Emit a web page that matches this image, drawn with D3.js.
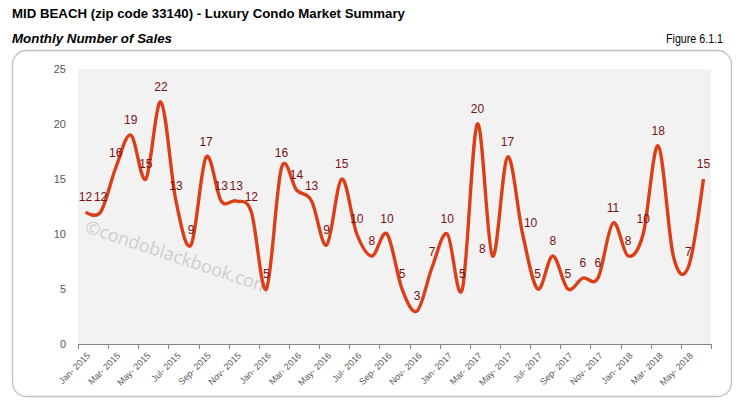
<!DOCTYPE html>
<html>
<head>
<meta charset="utf-8">
<script src="https://cdn.jsdelivr.net/npm/d3@7"></script>
<style>
  html, body { margin: 0; padding: 0; background: #fff; }
  svg { display: block; }
</style>
</head>
<body>
<svg id="chart" width="740" height="403"></svg>
<script>
// ---- data ----
const months = [
  "Jan- 2015","Feb- 2015","Mar- 2015","Apr- 2015","May- 2015","Jun- 2015","Jul- 2015","Aug- 2015","Sep- 2015","Oct- 2015","Nov- 2015","Dec- 2015",
  "Jan- 2016","Feb- 2016","Mar- 2016","Apr- 2016","May- 2016","Jun- 2016","Jul- 2016","Aug- 2016","Sep- 2016","Oct- 2016","Nov- 2016","Dec- 2016",
  "Jan- 2017","Feb- 2017","Mar- 2017","Apr- 2017","May- 2017","Jun- 2017","Jul- 2017","Aug- 2017","Sep- 2017","Oct- 2017","Nov- 2017","Dec- 2017",
  "Jan- 2018","Feb- 2018","Mar- 2018","Apr- 2018","May- 2018","Jun- 2018"
];
const sales = [
  12,12,16,19,15,22,13,9,17,13,13,12,
  5,16,14,13,9,15,10,8,10,5,3,7,
  10,5,20,8,17,10,5,8,5,6,6,11,
  8,10,18,8,7,15
];
// data label for Apr-2018 is absent in the reference
const hiddenLabels = ["Apr- 2018"];
const yTicks = [0,5,10,15,20,25];

// ---- layout / style ----
const labelNudge = {"Apr- 2017": [-10, 8], "Jun- 2017": [8, 4]};
const svg = d3.select("#chart");
const plot = {left: 78, right: 711, top: 69, bottom: 344};
const headFont = "'Liberation Sans',Arial,sans-serif";

svg.append("text").attr("x", 12).attr("y", 18)
  .style("font-family", headFont)
  .style("font-weight", "bold").style("font-size", "13px").attr("fill", "#000")
  .attr("textLength", 393).attr("lengthAdjust", "spacingAndGlyphs")
  .text("MID BEACH (zip code 33140) - Luxury Condo Market Summary");
svg.append("text").attr("x", 12).attr("y", 43)
  .style("font-family", headFont)
  .style("font-weight", "bold").style("font-style", "italic").style("font-size", "13.5px").attr("fill", "#000")
  .attr("textLength", 160).attr("lengthAdjust", "spacingAndGlyphs")
  .text("Monthly Number of Sales");
svg.append("text").attr("x", 723).attr("y", 43).attr("text-anchor", "end")
  .style("font-family", headFont)
  .style("font-size", "12.5px").attr("fill", "#000")
  .attr("textLength", 57).attr("lengthAdjust", "spacingAndGlyphs")
  .text("Figure 6.1.1");

// outer rounded frame
svg.append("rect").attr("x", 12.5).attr("y", 50.5).attr("width", 719).attr("height", 346)
  .attr("rx", 14).attr("ry", 14).attr("fill", "#fff").attr("stroke", "#bfbfbf").attr("stroke-width", 1.3);

// plot background
svg.append("rect").attr("x", plot.left).attr("y", plot.top)
  .attr("width", plot.right - plot.left).attr("height", plot.bottom - plot.top)
  .attr("fill", "#f2f2f2");

const x = d3.scaleBand().domain(months).range([plot.left, plot.right]).padding(0);
const y = d3.scaleLinear().domain([0, 25]).range([plot.bottom, plot.top]);
const cx = m => x(m) + x.bandwidth() / 2;

// watermark
svg.append("text")
  .attr("transform", `translate(84,232) rotate(18.5)`)
  .style("font-family", "'Open Sans','Noto Sans',sans-serif").style("font-size", "18px")
  .attr("fill", "#c8c8c8").attr("opacity", 0.85)
  .text("©condoblackbook.com");

// y axis labels
const yAxis = d3.axisLeft(y).tickValues(yTicks).tickSize(0).tickPadding(0);
const gy = svg.append("g").attr("transform", `translate(66,0)`).call(yAxis);
gy.select(".domain").remove();
gy.selectAll("text").style("font-family", "'Liberation Sans',Arial,sans-serif")
  .style("font-size", "11px").attr("fill", "#595959");

// x axis
const labelMonths = months.filter((d, i) => i % 2 === 0);
const xAxis = d3.axisBottom(x).tickValues(labelMonths).tickSize(0).tickPadding(0);
const gx = svg.append("g").attr("transform", `translate(0,${plot.bottom})`).call(xAxis);
gx.select(".domain").remove();
gx.selectAll("text")
  .style("font-family", "'Liberation Sans',Arial,sans-serif").style("font-size", "9px")
  .attr("fill", "#595959")
  .attr("text-anchor", "end")
  .attr("transform", "translate(3,10) rotate(-45)")
  .attr("dy", "0.35em").attr("y", 0);

// axis line and boundary ticks
svg.append("line").attr("x1", plot.left).attr("x2", plot.right)
  .attr("y1", plot.bottom + 0.5).attr("y2", plot.bottom + 0.5)
  .attr("stroke", "#868686").attr("stroke-width", 1);
const boundaryTicks = labelMonths.map(m => x(m)).concat([plot.right]);
svg.append("g").selectAll("line").data(boundaryTicks).join("line")
  .attr("x1", d => Math.round(d) + 0.5).attr("x2", d => Math.round(d) + 0.5)
  .attr("y1", plot.bottom).attr("y2", plot.bottom + 5)
  .attr("stroke", "#868686").attr("stroke-width", 1);

// line
const line = d3.line()
  .x((d, i) => cx(months[i]))
  .y(d => y(d))
  .curve(d3.curveCatmullRom.alpha(0));
svg.append("path").datum(sales).attr("d", line)
  .attr("fill", "none").attr("stroke", "#da3f17").attr("stroke-width", 3.4)
  .attr("stroke-linejoin", "round").attr("stroke-linecap", "butt");

// data labels
svg.append("g").selectAll("text")
  .data(sales.map((v, i) => ({m: months[i], v})).filter(d => !hiddenLabels.includes(d.m)))
  .join("text")
  .attr("x", d => cx(d.m) + (labelNudge[d.m] ? labelNudge[d.m][0] : 0))
  .attr("y", d => y(d.v) - 15 + (labelNudge[d.m] ? labelNudge[d.m][1] : 0))
  .attr("dy", "0.35em")
  .attr("text-anchor", "middle")
  .style("font-family", "'Liberation Sans',Arial,sans-serif").style("font-size", "12px")
  .attr("fill", "#7a1010")
  .text(d => d.v);
</script>
</body>
</html>
